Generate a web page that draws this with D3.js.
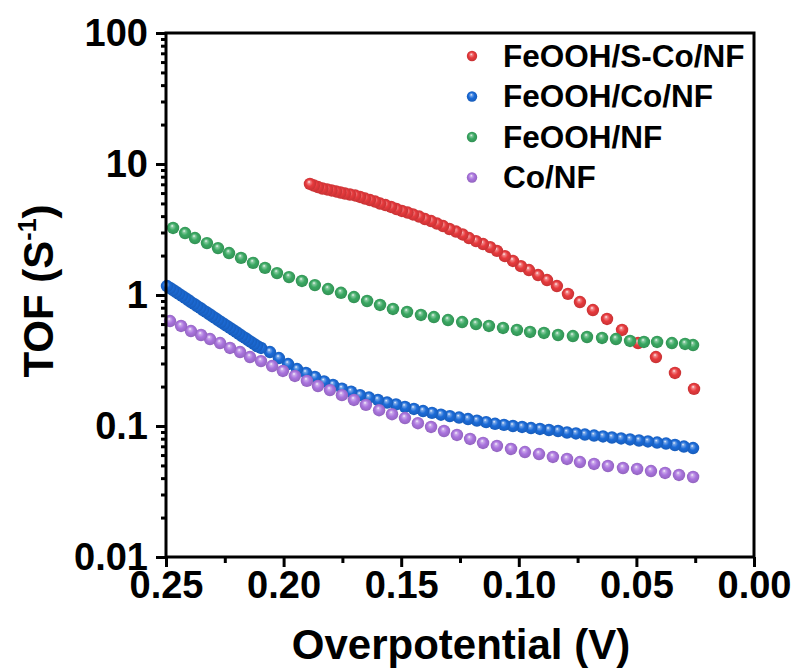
<!DOCTYPE html>
<html>
<head>
<meta charset="utf-8">
<script src="https://cdn.jsdelivr.net/npm/d3@7"></script>
<style>
  body { margin: 0; background: #fff; }
  text { font-family: "Liberation Sans", Arial, sans-serif; font-weight: bold; fill: #000; }
</style>
</head>
<body>
<div id="chart"></div>
<script>
// series names, in legend order (also drawing order)
const seriesNames = ["FeOOH/S-Co/NF", "FeOOH/Co/NF", "FeOOH/NF", "Co/NF"];

// FeOOH/S-Co/NF : overpotential (V) and TOF (s^-1)
const redV = [0.1888,0.1871,0.1854,0.1835,0.1815,0.1796,0.1777,0.1758,0.1739,0.1718,0.1696,0.1675,0.1654,0.1633,0.1611,0.1590,0.1567,0.1543,0.1520,0.1497,0.1473,0.1450,0.1424,0.1399,0.1373,0.1348,0.1322,0.1295,0.1267,0.1239,0.1212,0.1182,0.1152,0.1122,0.1093,0.1059,0.1025,0.0991,0.0957,0.0918,0.0880,0.0838,0.0791,0.0740,0.0685,0.0625,0.0561,0.0493,0.0417,0.0336,0.0255];
const redTOF = [7.04,6.85,6.67,6.50,6.39,6.28,6.17,6.06,5.95,5.85,5.75,5.60,5.45,5.31,5.17,4.99,4.86,4.70,4.53,4.38,4.26,4.12,3.97,3.80,3.67,3.51,3.36,3.19,3.05,2.90,2.72,2.58,2.45,2.32,2.17,1.98,1.82,1.66,1.55,1.42,1.30,1.17,1.02,0.884,0.768,0.656,0.541,0.430,0.336,0.254,0.192];

// FeOOH/Co/NF
const blueV = [0.2496,0.2483,0.2470,0.2457,0.2445,0.2432,0.2419,0.2406,0.2394,0.2381,0.2368,0.2355,0.2343,0.2330,0.2317,0.2304,0.2292,0.2279,0.2266,0.2253,0.2241,0.2228,0.2215,0.2202,0.2190,0.2177,0.2164,0.2151,0.2139,0.2126,0.2113,
  0.2096,0.2058,0.2020,0.1981,0.1943,0.1905,0.1867,0.1828,0.1790,0.1752,0.1713,0.1675,0.1637,0.1599,0.1560,0.1522,0.1484,0.1446,0.1407,0.1369,0.1331,0.1293,0.1254,0.1216,0.1178,0.1139,0.1101,0.1063,0.1025,0.0986,0.0948,0.0910,0.0872,0.0833,0.0795,0.0757,0.0719,0.0680,0.0642,0.0604,0.0565,0.0527,0.0489,0.0451,0.0412,0.0374,0.0336,0.0298,0.0259];
const blueTOF = [1.171,1.131,1.092,1.054,1.018,0.983,0.949,0.916,0.884,0.854,0.824,0.796,0.768,0.742,0.716,0.691,0.668,0.644,0.622,0.600,0.580,0.560,0.541,0.522,0.504,0.486,0.470,0.453,0.438,0.423,0.408,
  0.394,0.367,0.330,0.297,0.272,0.254,0.237,0.219,0.206,0.193,0.183,0.172,0.165,0.158,0.151,0.146,0.140,0.135,0.130,0.126,0.122,0.119,0.116,0.113,0.110,0.107,0.104,0.102,0.100,0.0983,0.0965,0.0949,0.0932,0.0916,0.0892,0.0877,0.0861,0.0846,0.0832,0.0817,0.0803,0.0789,0.0775,0.0762,0.0748,0.0735,0.0716,0.0697,0.0679];

// FeOOH/NF
const greenV = [0.2470,0.2419,0.2377,0.2326,0.2279,0.2232,0.2181,0.2130,0.2079,0.2028,0.1977,0.1922,0.1867,0.1811,0.1756,0.1701,0.1645,0.1590,0.1535,0.1475,0.1416,0.1361,0.1301,0.1241,0.1182,0.1127,0.1067,0.1008,0.0952,0.0893,0.0833,0.0770,0.0710,0.0646,0.0587,0.0527,0.0468,0.0412,0.0349,0.0293,0.0259];
const greenTOF = [3.25,2.97,2.72,2.49,2.28,2.09,1.92,1.76,1.61,1.47,1.37,1.28,1.19,1.11,1.04,0.965,0.900,0.839,0.782,0.742,0.704,0.679,0.644,0.622,0.600,0.580,0.560,0.541,0.522,0.513,0.495,0.486,0.478,0.470,0.461,0.446,0.438,0.438,0.430,0.423,0.415];

// Co/NF
const purpleV = [0.2483,0.2436,0.2394,0.2351,0.2313,0.2270,0.2228,0.2185,0.2143,0.2096,0.2049,0.2003,0.1952,0.1901,0.1854,0.1803,0.1752,0.1701,0.1650,0.1594,0.1539,0.1484,0.1429,0.1373,0.1318,0.1263,0.1207,0.1152,0.1093,0.1033,0.0974,0.0914,0.0855,0.0795,0.0740,0.0680,0.0621,0.0557,0.0497,0.0438,0.0378,0.0319,0.0259];
const purpleTOF = [0.633,0.580,0.531,0.495,0.461,0.430,0.394,0.367,0.336,0.313,0.287,0.263,0.241,0.221,0.202,0.188,0.172,0.158,0.145,0.132,0.123,0.115,0.105,0.0983,0.0916,0.0854,0.0796,0.0742,0.0704,0.0668,0.0633,0.0611,0.0580,0.0560,0.0531,0.0513,0.0495,0.0478,0.0470,0.0453,0.0438,0.0423,0.0408];

// axis ticks
const xTicks = [0.25, 0.20, 0.15, 0.10, 0.05, 0.00];
const xMinorTicks = [0.225, 0.175, 0.125, 0.075, 0.025];
const yTicks = [0.01, 0.1, 1, 10, 100];
const yTickLabels = ["0.01", "0.1", "1", "10", "100"];

const colors = ["#e73a3d", "#1b6bd8", "#3aa862", "#aa74de"];

// canvas and plot frame
const width = 798, height = 668;
const margin = {top: 33, right: 44, bottom: 111, left: 166};

const xscale = d3.scaleLinear()
  .domain([0.25, 0])
  .range([margin.left, width - margin.right]);
const yscale = d3.scaleLog()
  .domain([0.01, 100])
  .range([height - margin.bottom, margin.top]);

const svg = d3.select("#chart").append("svg")
  .attr("width", width)
  .attr("height", height);

// shiny sphere look for the markers
const defs = svg.append("defs");
colors.forEach((c, i) => {
  const g = defs.append("radialGradient")
    .attr("id", "ball" + i)
    .attr("cx", "50%").attr("cy", "50%").attr("r", "55%")
    .attr("fx", "42%").attr("fy", "32%");
  g.append("stop").attr("offset", "0%").attr("stop-color", "#ffffff");
  g.append("stop").attr("offset", "18%").attr("stop-color", d3.interpolateRgb(c, "#fff")(0.4));
  g.append("stop").attr("offset", "50%").attr("stop-color", c);
  g.append("stop").attr("offset", "100%").attr("stop-color", d3.color(c).darker(0.5));
});

const series = [
  {name: seriesNames[0], v: redV, t: redTOF},
  {name: seriesNames[1], v: blueV, t: blueTOF},
  {name: seriesNames[2], v: greenV, t: greenTOF},
  {name: seriesNames[3], v: purpleV, t: purpleTOF}
];

// the points; drawn from low to high overpotential so the left ones sit on top
series.forEach((s, i) => {
  const pts = s.v.map((v, k) => ({v: v, t: s.t[k]}))
    .sort((a, b) => a.v - b.v);
  svg.append("g")
    .selectAll("circle")
    .data(pts)
    .join("circle")
    .attr("cx", d => xscale(d.v))
    .attr("cy", d => yscale(d.t))
    .attr("r", 6.2)
    .attr("fill", `url(#ball${i})`);
});

// axes
const xaxis = d3.axisBottom(xscale).tickValues(xTicks).tickSize(10).tickPadding(4)
  .tickFormat(d3.format(".2f"));
const xminor = d3.axisBottom(xscale).tickValues(xMinorTicks).tickSize(6).tickFormat("");
const yaxis = d3.axisLeft(yscale).tickValues(yTicks).tickSize(10).tickPadding(8)
  .tickFormat((d, i) => yTickLabels[i]);
const yMinorTicks = [];
yTicks.slice(0, -1).forEach(b => { for (let m = 2; m < 10; m++) yMinorTicks.push(b * m); });
const yminor = d3.axisLeft(yscale).tickValues(yMinorTicks).tickSize(5).tickFormat("");

const gx = svg.append("g").attr("transform", `translate(0,${height - margin.bottom})`).call(xaxis);
svg.append("g").attr("transform", `translate(0,${height - margin.bottom})`).call(xminor);
const gy = svg.append("g").attr("transform", `translate(${margin.left},0)`).call(yaxis);
svg.append("g").attr("transform", `translate(${margin.left},0)`).call(yminor);

svg.selectAll(".domain").remove();
svg.selectAll(".tick line").attr("stroke", "#000").attr("stroke-width", 3);
gx.selectAll("text").attr("font-size", 38).attr("dy", "0.72em");
gy.selectAll("text").attr("font-size", 38);

// frame around the plot
svg.append("rect")
  .attr("x", margin.left).attr("y", margin.top)
  .attr("width", width - margin.right - margin.left)
  .attr("height", height - margin.bottom - margin.top)
  .attr("fill", "none").attr("stroke", "#000").attr("stroke-width", 3);

// axis titles
svg.append("text")
  .attr("x", 461).attr("y", 659)
  .attr("text-anchor", "middle")
  .attr("font-size", 42)
  .text("Overpotential (V)");

const ytitle = svg.append("text")
  .attr("transform", "translate(53,291) rotate(-90)")
  .attr("text-anchor", "middle")
  .attr("font-size", 42);
ytitle.append("tspan").text("TOF (S");
ytitle.append("tspan").attr("font-size", 25).attr("dy", -17).text("-1");
ytitle.append("tspan").attr("dy", 17).text(")");

// legend
const legend = svg.append("g")
  .selectAll("g")
  .data(seriesNames)
  .join("g")
  .attr("transform", (d, i) => `translate(472,${56 + i * 40.5})`);
legend.append("circle").attr("r", 5.2).attr("fill", (d, i) => `url(#ball${i})`);
legend.append("text").attr("x", 31).attr("y", 10.5).attr("font-size", 31.5).text(d => d);
</script>
</body>
</html>
